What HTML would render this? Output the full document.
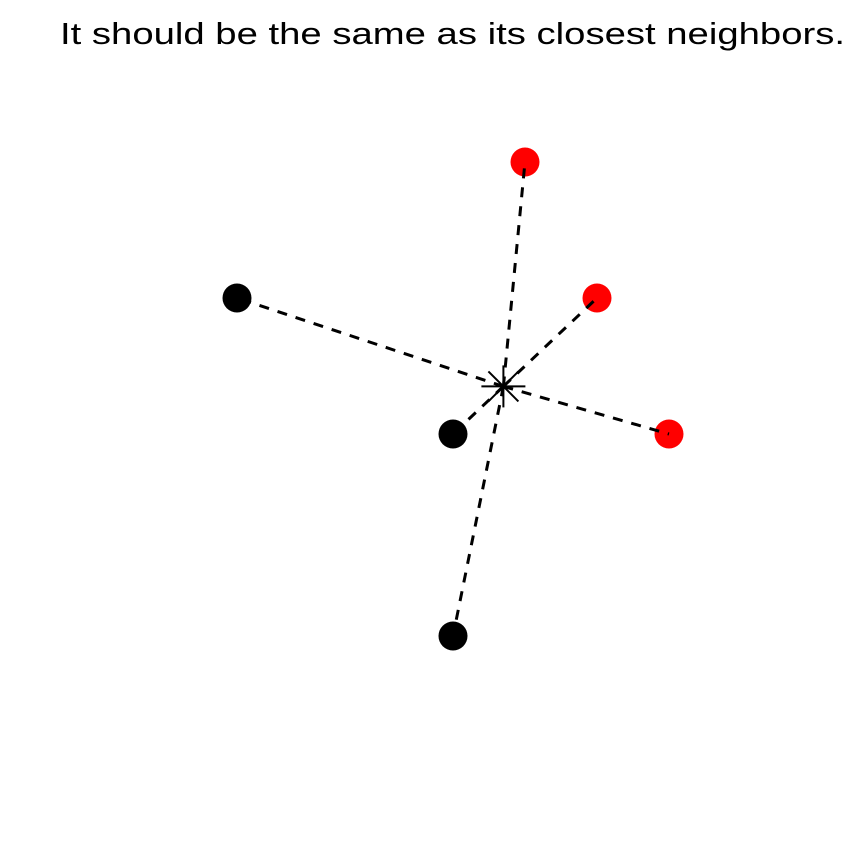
<!DOCTYPE html>
<html>
<head>
<meta charset="utf-8">
<style>
  html, body { margin: 0; padding: 0; background: #fff; }
  svg { display: block; }
  text { font-family: "Liberation Sans", Arial, sans-serif; }
</style>
</head>
<body>
<svg id="chart" width="864" height="864" viewBox="0 0 864 864" xmlns="http://www.w3.org/2000/svg">
  <rect width="864" height="864" fill="#fff"/>
  <text x="60" y="44" font-size="31" textLength="785" lengthAdjust="spacingAndGlyphs" fill="#000">It should be the same as its closest neighbors.</text>
  <g id="lines"></g>
  <g id="points"></g>
  <g id="query"></g>
</svg>
<script>
const blackX = [1, 4, 4];
const blackY = [7, 5, 2.03];
const redX = [5, 6, 7];
const redY = [9, 7, 5];
const queryX = [4.7];
const queryY = [5.7];

function sx(v) { return 165 + 72 * v; }
function sy(v) { return 774 - 68 * v; }

const NS = 'http://www.w3.org/2000/svg';
const pts = document.getElementById('points');
const lines = document.getElementById('lines');
const query = document.getElementById('query');
const qx = sx(queryX[0]), qy = sy(queryY[0]);

function addPoint(x, y, color, name) {
  const c = document.createElementNS(NS, 'circle');
  c.setAttribute('cx', sx(x));
  c.setAttribute('cy', sy(y));
  c.setAttribute('r', 14.5);
  c.setAttribute('fill', color);
  
  
  pts.appendChild(c);
}
function addLine(x, y, name) {
  const l = document.createElementNS(NS, 'line');
  l.setAttribute('x1', qx);
  l.setAttribute('y1', qy);
  l.setAttribute('x2', sx(x));
  l.setAttribute('y2', sy(y));
  l.setAttribute('stroke', '#000');
  l.setAttribute('stroke-width', 3);
  l.setAttribute('stroke-dasharray', '10 9');
  
  
  lines.appendChild(l);
}
for (let i = 0; i < blackX.length; i++) {
  addPoint(blackX[i], blackY[i], '#000', 'black-point-' + (i + 1));
}
for (let i = 0; i < redX.length; i++) {
  addPoint(redX[i], redY[i], '#ff0000', 'red-point-' + (i + 1));
}
for (let i = 0; i < blackX.length; i++) {
  addLine(blackX[i], blackY[i], 'line-to-black-' + (i + 1));
}
for (let i = 0; i < redX.length; i++) {
  addLine(redX[i], redY[i], 'line-to-red-' + (i + 1));
}
pts.parentNode.insertBefore(lines, query);

const segs = [[-22, 0, 22, 0], [0, -21, 0, 21], [-15, -15, 15, 15], [-15, 15, 15, -15]];
segs.forEach(function (s, i) {
  const l = document.createElementNS(NS, 'line');
  l.setAttribute('x1', qx + s[0]);
  l.setAttribute('y1', qy + s[1]);
  l.setAttribute('x2', qx + s[2]);
  l.setAttribute('y2', qy + s[3]);
  l.setAttribute('stroke', '#000');
  l.setAttribute('stroke-width', 2);
  
  
  query.appendChild(l);
});
</script>
</body>
</html>
